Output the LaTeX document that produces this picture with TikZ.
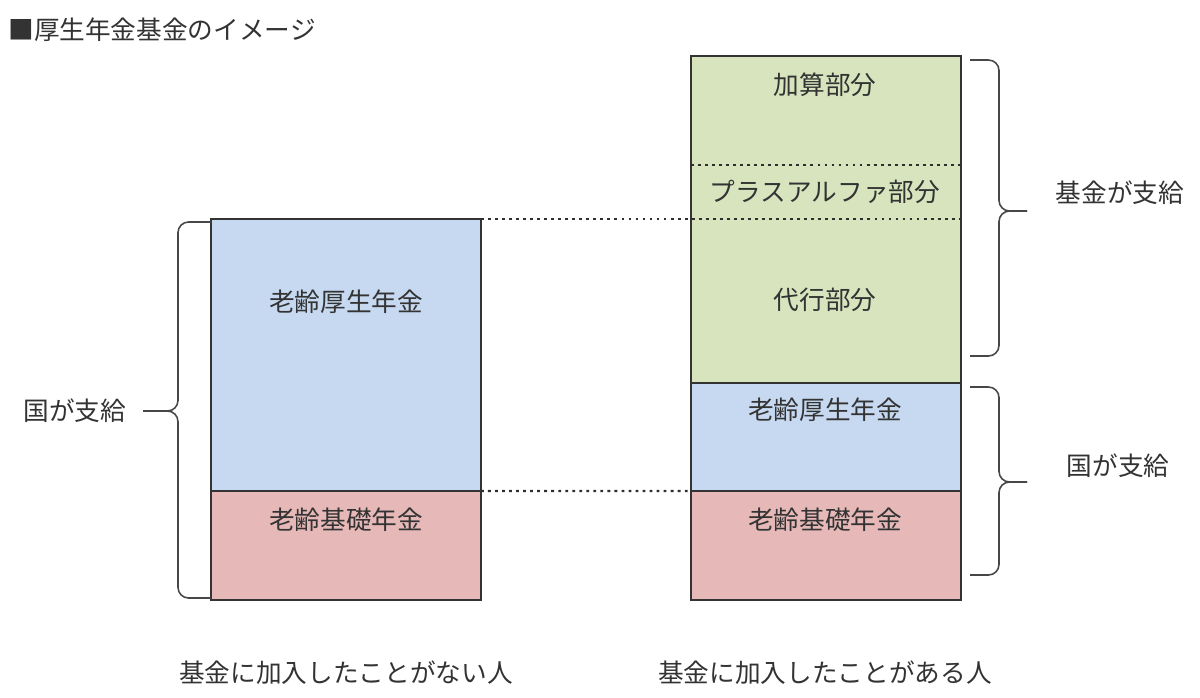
\documentclass[tikz,border=0pt]{standalone}
\usepackage{fontspec}
\setmainfont{Noto Sans CJK JP}
\usetikzlibrary{positioning}
\definecolor{kiBlue}{HTML}{C6D9F1}
\definecolor{kiRed}{HTML}{E6B9B8}
\definecolor{kiGreen}{HTML}{D7E4BD}
\definecolor{kiInk}{HTML}{333333}
\begin{document}
\begin{tikzpicture}[
    x=0.02cm,y=-0.02cm,
    nenBox/.style={draw=kiInk,line width=0.9pt,outer sep=0pt,inner sep=0pt,minimum width=5.4cm},
    nenText/.style={font=\fontsize{14.6}{17}\selectfont,text=kiInk,inner sep=0pt},
    dotLine/.style={line width=1.3pt,dash pattern=on 1.6pt off 2.4pt,color=kiInk!90!black},
    braceLine/.style={line width=0.9pt,color=kiInk!90,rounded corners=6pt},
]
\useasboundingbox (0,0) rectangle (1200,697);
% title
\node[nenText,anchor=west] (TITLE) at (8,30) {■厚生年金基金のイメージ};
% left column
\node[nenBox,fill=kiBlue,minimum height=5.44cm,anchor=north west] (KOSEI_L) at (211,219) {};
\node[nenBox,fill=kiRed,minimum height=2.18cm,below=0pt of KOSEI_L] (KISO_L) {};
% right column
\node[nenBox,fill=kiGreen,minimum height=6.54cm,anchor=north west] (FUND) at (691,56) {};
\node[nenBox,fill=kiBlue,minimum height=2.16cm,below=0pt of FUND] (KOSEI_R) {};
\node[nenBox,fill=kiRed,minimum height=2.18cm,below=0pt of KOSEI_R] (KISO_R) {};
% dotted guides
\coordinate (PLUS_TOP) at (691,165);
\draw[dotLine] (PLUS_TOP) -- (PLUS_TOP -| FUND.east);
\draw[dotLine] (KOSEI_L.north east) -- (KOSEI_L.north east -| FUND.east);
\draw[dotLine] (KISO_L.north east) -- (KISO_R.north west);
% box labels
\node[nenText] (KOSEI_LT) at (346,302) {老齢厚生年金};
\node[nenText] (KISO_LT) at (346,520) {老齢基礎年金};
\node[nenText] (KASAN) at (825,85) {加算部分};
\node[nenText] (PLUS) at (825,192) {プラスアルファ部分};
\node[nenText] (DAIKO) at (825,300) {代行部分};
\node[nenText] (KOSEI_RT) at (825,410) {老齢厚生年金};
\node[nenText] (KISO_RT) at (825,520) {老齢基礎年金};
% braces
\draw[braceLine] (211,222) -- (178,222) -- (178,411) -- (143,411);
\draw[braceLine] (211,598) -- (178,598) -- (178,411) -- (143,411);
\draw[braceLine] (970,60) -- (999,60) -- (999,211) -- (1027,211);
\draw[braceLine] (970,356) -- (999,356) -- (999,211) -- (1027,211);
\draw[braceLine] (970,387) -- (999,387) -- (999,482) -- (1027,482);
\draw[braceLine] (970,575) -- (999,575) -- (999,482) -- (1027,482);
% side labels
\node[nenText] (KUNI_L) at (75,411) {国が支給};
\node[nenText] (KIKIN) at (1120,193) {基金が支給};
\node[nenText] (KUNI_R) at (1118,466) {国が支給};
% bottom labels
\node[nenText] (NASHI) at (346,673) {基金に加入したことがない人};
\node[nenText] (ARI) at (825,673) {基金に加入したことがある人};
\end{tikzpicture}
\end{document}
